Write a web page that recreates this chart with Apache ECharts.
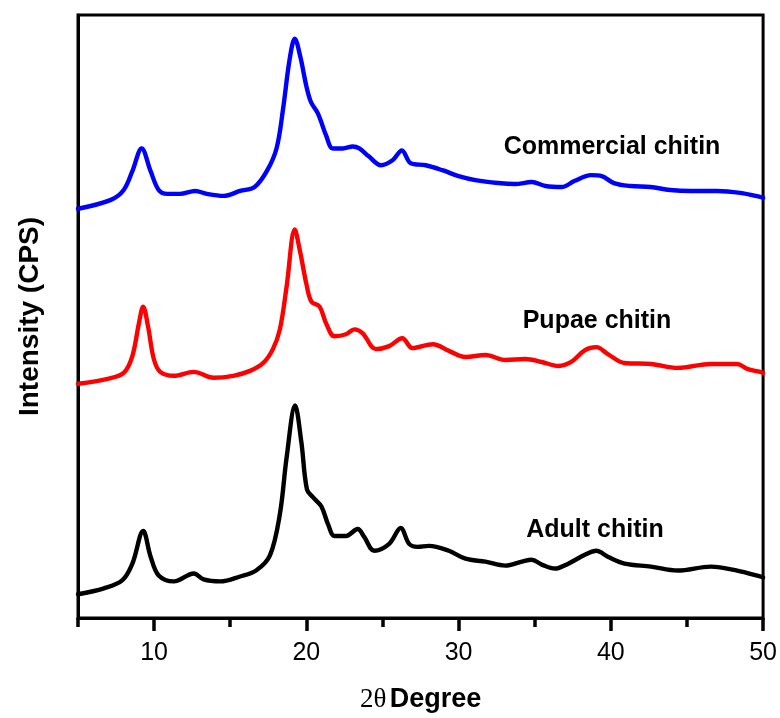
<!DOCTYPE html>
<html>
<head>
<meta charset="utf-8">
<title>XRD patterns of chitin samples</title>
<script src="https://cdn.jsdelivr.net/npm/echarts@6/dist/echarts.min.js"></script>
<style>
  html, body { margin: 0; padding: 0; background: #fff; }
  #chart { width: 780px; height: 718px; }
</style>
</head>
<body>
<div id="chart"></div>
<script>
// Diffraction angle (2θ, degrees) and stacked intensity for each sample
const commercialX = [5.0, 7.16, 8.0, 8.57, 9.18, 9.77, 10.3, 10.86, 11.7, 12.7, 13.47, 14.56, 15.65, 16.6, 17.4, 18.04, 18.47, 18.9, 19.24, 19.6, 20.0, 20.3, 20.77, 21.3, 21.74, 22.4, 23.05, 23.48, 24.1, 24.9, 25.66, 26.27, 26.86, 27.84, 28.93, 30.0, 31.1, 32.6, 33.7, 34.8, 35.7, 36.8, 37.6, 38.7, 39.4, 40.2, 41.3, 42.6, 43.9, 45.25, 47.0, 48.5, 49.8, 50.0];
const commercialY = [414, 423, 433, 452, 475, 452, 433, 429, 429, 432, 429, 427, 432, 436, 452, 475, 515, 565, 586, 568, 538, 522, 510, 488, 475, 475, 477, 475, 467, 458, 463, 473, 460, 458, 453, 447, 443, 440, 439, 441, 437, 436, 442, 448, 447, 440, 437, 436, 433, 432, 432, 430, 426, 425];

const pupaeX = [5.0, 6.94, 8.0, 8.57, 9.0, 9.28, 9.6, 9.98, 10.4, 11.3, 12.6, 13.9, 15.2, 16.3, 17.17, 17.8, 18.26, 18.7, 19.24, 19.57, 20.0, 20.33, 20.87, 21.3, 21.85, 22.6, 23.16, 23.7, 24.57, 25.44, 26.3, 26.97, 28.3, 29.4, 30.45, 31.76, 33.07, 34.37, 35.46, 36.55, 37.4, 38.3, 39.05, 39.8, 40.9, 42.64, 44.4, 46.56, 48.3, 48.96, 49.8, 50.0];
const pupaeY = [237, 242, 248, 265, 298, 315, 295, 262, 249, 245, 249, 243, 245, 250, 258, 272, 292, 335, 393, 372, 338, 320, 315, 298, 285, 287, 292, 288, 272, 275, 283, 273, 277, 270, 264, 266, 261, 262, 259, 255, 259, 271, 274, 267, 258, 257, 253, 257, 257, 252, 249, 248];

const adultX = [5.0, 6.7, 7.9, 8.57, 9.28, 9.77, 10.3, 11.3, 12.6, 13.25, 14.34, 15.65, 16.7, 17.6, 18.26, 18.7, 19.26, 19.67, 20.04, 20.44, 20.98, 21.42, 21.85, 22.6, 23.37, 23.8, 24.46, 25.44, 26.2, 26.75, 27.3, 28.05, 29.36, 30.45, 31.76, 33.07, 34.15, 34.8, 35.46, 36.33, 37.2, 38.3, 39.05, 39.8, 40.9, 42.64, 44.4, 46.56, 48.3, 49.8, 50.0];
const adultY = [24, 30, 38, 55, 88, 62, 43, 37, 45, 39, 37, 42, 48, 63, 105, 162, 215, 178, 130, 122, 113, 95, 83, 83, 90, 82, 68, 75, 91, 75, 72, 73, 68, 60, 57, 53, 57, 59, 54, 50, 55, 64, 68, 62, 55, 52, 48, 52, 48, 42, 41];

const sampleNames = ['Commercial chitin', 'Pupae chitin', 'Adult chitin'];
const majorTicks = [10, 20, 30, 40, 50];
const minorTicks = [5, 15, 25, 35, 45];

const pairs = (xs, ys) => xs.map((x, i) => [x, ys[i]]);
const sans = '"Liberation Sans", Arial, Helvetica, sans-serif';
const narrow = '"Liberation Sans Narrow", "Arial Narrow", "Liberation Sans", sans-serif';

const chart = echarts.init(document.getElementById('chart'), null, { renderer: 'canvas' });

const traceStyle = (color) => ({
  type: 'line',
  showSymbol: false,
  smooth: 0.35,
  lineStyle: { color: color, width: 4.4, join: 'round', cap: 'round' },
  itemStyle: { color: color },
  emphasis: { disabled: true },
  z: 3
});

chart.setOption({
  animation: false,
  backgroundColor: '#ffffff',
  grid: {
    left: 78, right: 14, top: 15, bottom: 93,
    show: true, borderColor: '#000', borderWidth: 3, backgroundColor: 'transparent'
  },
  xAxis: [
    {
      type: 'value', min: 5, max: 50, interval: 5, position: 'bottom',
      name: '{t|2θ} {d|Degree}',
      nameLocation: 'middle', nameGap: 68,
      nameTextStyle: {
        rich: {
          t: { fontFamily: '"Liberation Serif", "DejaVu Serif", serif', fontSize: 27, color: '#000' },
          d: { fontFamily: sans, fontWeight: 'bold', fontSize: 27, color: '#000' }
        }
      },
      axisLine: { show: true, lineStyle: { color: '#000', width: 3 } },
      axisTick: { show: true, customValues: majorTicks, length: 13, lineStyle: { color: '#000', width: 3.5 } },
      axisLabel: {
        show: true, margin: 23, fontFamily: narrow, fontSize: 25, color: '#000',
        formatter: (v) => (majorTicks.indexOf(v) >= 0 ? String(v) : '')
      },
      splitLine: { show: false }
    },
    {
      type: 'value', min: 5, max: 50, position: 'bottom',
      axisLine: { show: false },
      axisTick: { show: true, customValues: minorTicks, length: 9, lineStyle: { color: '#000', width: 3.5 } },
      axisLabel: { show: false },
      splitLine: { show: false }
    }
  ],
  yAxis: {
    type: 'value', min: 0, max: 610,
    name: 'Intensity (CPS)',
    nameLocation: 'middle', nameGap: 34,
    nameTextStyle: { fontFamily: sans, fontWeight: 'bold', fontSize: 28, color: '#000' },
    axisLine: { show: true, lineStyle: { color: '#000', width: 3 } },
    axisTick: { show: false },
    axisLabel: { show: false },
    splitLine: { show: false }
  },
  series: [
    Object.assign(traceStyle('#0000ff'), { name: sampleNames[0], data: pairs(commercialX, commercialY) }),
    Object.assign(traceStyle('#ff0000'), { name: sampleNames[1], data: pairs(pupaeX, pupaeY) }),
    Object.assign(traceStyle('#000000'), { name: sampleNames[2], data: pairs(adultX, adultY) })
  ],
  graphic: [
    { type: 'text', x: 612, y: 147, z: 10,
      style: { text: sampleNames[0], fill: '#000', font: 'bold 25px ' + sans, textAlign: 'center', textVerticalAlign: 'middle' } },
    { type: 'text', x: 597, y: 321, z: 10,
      style: { text: sampleNames[1], fill: '#000', font: 'bold 25px ' + sans, textAlign: 'center', textVerticalAlign: 'middle' } },
    { type: 'text', x: 595, y: 530, z: 10,
      style: { text: sampleNames[2], fill: '#000', font: 'bold 25px ' + sans, textAlign: 'center', textVerticalAlign: 'middle' } }
  ]
});
</script>
</body>
</html>
